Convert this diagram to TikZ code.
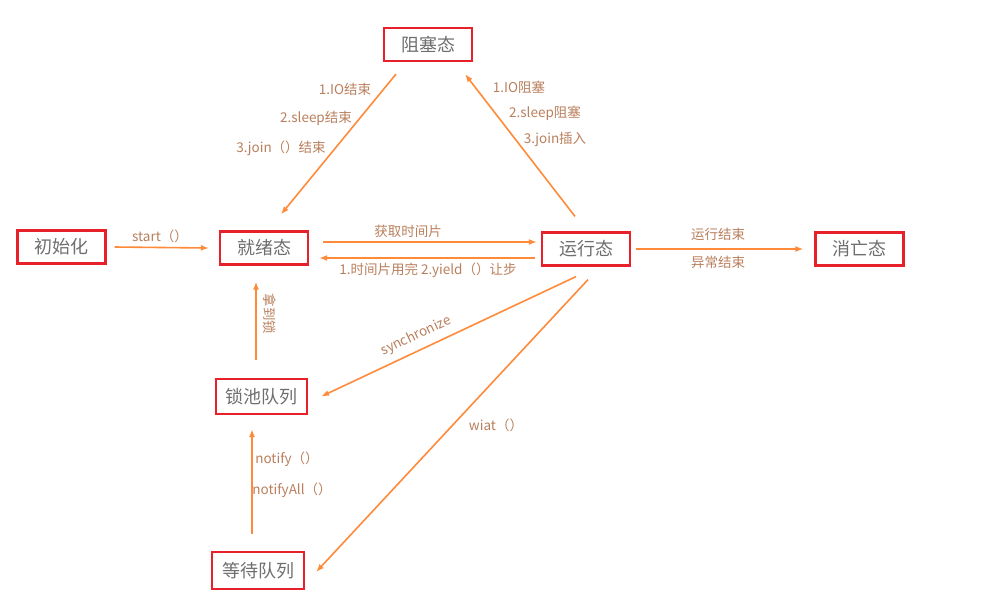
\documentclass[tikz,border=0pt]{standalone}
\usepackage{fontspec}
\setmainfont{Noto Sans CJK SC}
\usetikzlibrary{arrows.meta}
\definecolor{boxred}{HTML}{E8202A}
\definecolor{arrorange}{HTML}{FF8A3A}
\definecolor{labbrown}{HTML}{B97F5C}
\definecolor{txtgray}{HTML}{6E6E6E}
\tikzset{
  state/.style={draw=boxred,line width=2.2pt,minimum width=88pt,minimum height=33pt,inner sep=0pt,
    text=txtgray,font=\fontsize{18}{21}\selectfont},
  trans/.style={draw=arrorange,line width=1.6pt,-{Latex[length=8pt,width=6pt]}},
  lab/.style={text=labbrown,font=\fontsize{13.5}{16}\selectfont,inner sep=1pt}
}
\begin{document}
\begin{tikzpicture}[x=1pt,y=-1pt]
    \useasboundingbox (0,0) rectangle (995,614);
    % states
    \node[state] (block) at (428,44.5) {阻塞态};
    \node[state] (init) at (61.5,247) {初始化};
    \node[state] (ready) at (264,248) {就绪态};
    \node[state] (run) at (586,249) {运行态};
    \node[state] (dead) at (859.5,249) {消亡态};
    \node[state,minimum width=91pt,minimum height=35pt] (lock) at (261.5,396.5) {锁池队列};
    \node[state,minimum width=92pt,minimum height=37pt] (wait) at (258,570.5) {等待队列};
    % transitions
    \draw[trans] ([xshift=8pt]init.east) -- ([xshift=-10pt]ready.west);
    \draw[trans] ([xshift=14pt,yshift=6pt]ready.east) -- ([xshift=-4pt,yshift=7pt]run.west);
    \draw[trans] ([xshift=-6pt,yshift=-9pt]run.west) -- ([xshift=10pt,yshift=-10pt]ready.east);
    \draw[trans] ([xshift=5pt]run.east) -- ([xshift=-11pt]dead.west);
    \draw[trans] ([xshift=-32pt,yshift=-12pt]block.south) -- ([xshift=17pt,yshift=16pt]ready.north);
    \draw[trans] ([xshift=-11pt,yshift=15pt]run.north) -- ([xshift=37pt,yshift=-12pt]block.south);
    \draw[trans] ([xshift=-5.5pt,yshift=18pt]lock.north) -- ([xshift=-8pt,yshift=-16pt]ready.south);
    \draw[trans] ([xshift=-10pt,yshift=-10pt]run.south) -- ([xshift=13pt]lock.east);
    \draw[trans] ([xshift=2pt,yshift=-13pt]run.south) -- ([xshift=11pt,yshift=-1.5pt]wait.east);
    \draw[trans] ([xshift=-6pt,yshift=17pt]wait.north) -- ([xshift=-9.5pt,yshift=-14pt]lock.south);
    % labels
    \node[lab] (lstart) at (160,236) {start（）};
    \node[lab] (lget) at (408,231) {获取时间片};
    \node[lab] (lyield) at (428,270) {1.时间片用完 2.yield（）让步};
    \node[lab] (lend) at (718,234) {运行结束};
    \node[lab] (lerr) at (718,262) {异常结束};
    \node[lab] (lio) at (345,89) {1.IO结束};
    \node[lab] (lsleep) at (316,118) {2.sleep结束};
    \node[lab] (ljoin) at (281,148) {3.join（）结束};
    \node[lab] (lioblk) at (519,87) {1.IO阻塞};
    \node[lab] (lsleepblk) at (545,113) {2.sleep阻塞};
    \node[lab] (ljoinblk) at (555,139) {3.join插入};
    \node[lab,rotate=-90] (lgot) at (270,314) {拿到锁};
    \node[lab,rotate=25] (lsync) at (416,336) {synchronize};
    \node[lab] (lwait) at (496,425) {wiat（）};
    \node[lab] (lnotify) at (287,459) {notify（）};
    \node[lab] (lnotall) at (292,490) {notifyAll（）};
\end{tikzpicture}
\end{document}
